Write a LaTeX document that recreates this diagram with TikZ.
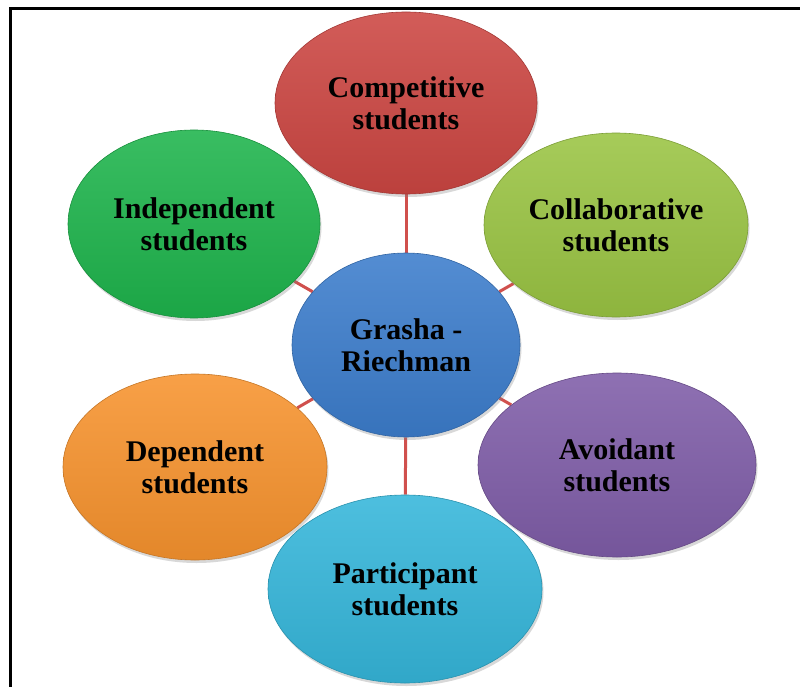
\documentclass[tikz,border=0pt]{standalone}
\usepackage{fontspec}
\setmainfont{Liberation Serif}
\usetikzlibrary{shapes.geometric,shadows,backgrounds}
\definecolor{cRed}{HTML}{CC4642}
\definecolor{cGreen}{HTML}{1EB44C}
\definecolor{cLime}{HTML}{9AC443}
\definecolor{cBlue}{HTML}{3C7DCC}
\definecolor{cOrange}{HTML}{F7932E}
\definecolor{cPurple}{HTML}{7F5DA8}
\definecolor{cCyan}{HTML}{35B6DA}
\definecolor{linkred}{HTML}{D0504D}
\begin{document}
\begin{tikzpicture}[x=1pt,y=-1pt,
  bub/.style={ellipse, inner sep=0pt, align=center,
    font=\fontsize{30}{32}\selectfont\bfseries,
    drop shadow={opacity=0.3,shadow xshift=1.5pt,shadow yshift=-3pt}},
  bubcol/.style={top color=#1!88!white, middle color=#1, bottom color=#1!92!black,
    draw=#1!80!black, line width=0.6pt},
  link/.style={draw=linkred, line width=3pt},
  frameline/.style={line width=3pt, black}]
\useasboundingbox (0,0) rectangle (800,687);

\node[bub, bubcol=cRed, minimum width=262, minimum height=182] (comp) at (406,103) {Competitive\\students};
\node[bub, bubcol=cGreen, minimum width=252, minimum height=188] (indep) at (194,224) {Independent\\students};
\node[bub, bubcol=cLime, minimum width=264, minimum height=184] (collab) at (616,225) {Collaborative\\students};
\node[bub, bubcol=cOrange, minimum width=264, minimum height=186] (dep) at (195,467) {Dependent\\students};
\node[bub, bubcol=cPurple, minimum width=278, minimum height=184] (avoid) at (617,465) {Avoidant\\students};
\node[bub, bubcol=cCyan, minimum width=274, minimum height=188] (part) at (405,589) {Participant\\students};
\node[bub, bubcol=cBlue, minimum width=228, minimum height=184] (ctr) at (406,345) {Grasha -\\Riechman};

\begin{scope}[on background layer]
\fill[white] (0,0) rectangle (800,687);
\draw[frameline] (10,687) -- (10,9) -- (800,9);
\draw[link] (ctr) -- (comp);
\draw[link] (ctr) -- (indep);
\draw[link] (ctr) -- (collab);
\draw[link] (ctr) -- (dep);
\draw[link] (ctr) -- (avoid);
\draw[link] (ctr) -- (part);
\end{scope}
\end{tikzpicture}
\end{document}
